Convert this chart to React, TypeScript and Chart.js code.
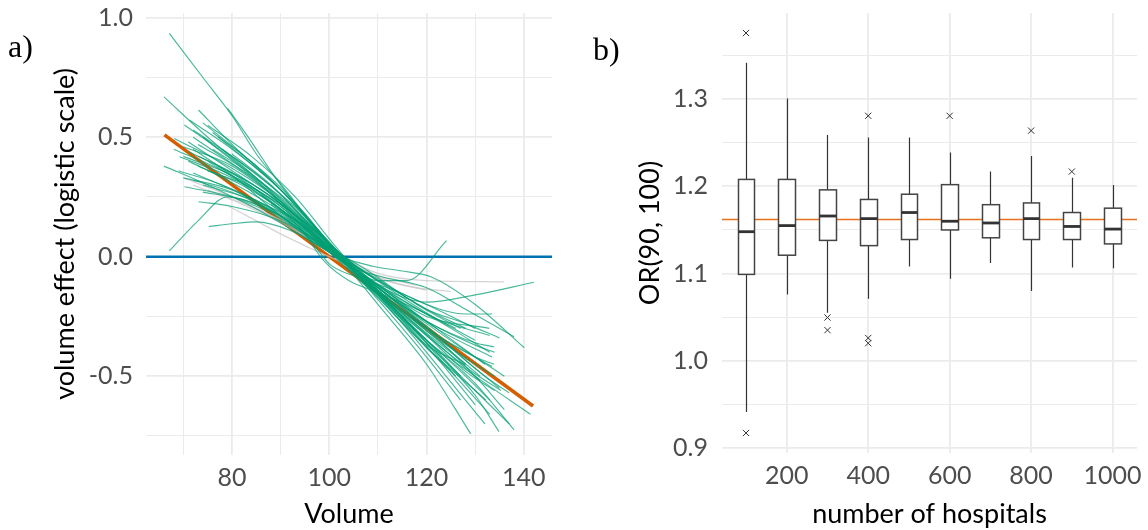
import React, { useEffect, useRef } from 'react';
import { Chart, registerables } from 'chart.js';
Chart.register(...registerables);

// ---------- Panel a) data ----------
const VOLUME_RANGE = [62.3, 145.8];
const EFFECT_RANGE = [-0.83, 1.02];
const VOLUME_TICKS = [70, 80, 90, 100, 110, 120, 130, 140];
const VOLUME_LABELED = [80, 100, 120, 140];
const EFFECT_TICKS = [-0.75, -0.5, -0.25, 0, 0.25, 0.5, 0.75, 1.0];
const EFFECT_LABELED = [-0.5, 0, 0.5, 1.0];
const TRUE_EFFECT = [[66.1, 0.51], [100, 0.0], [141.9, -0.625]];
const NULL_EFFECT = 0;

const GREEN_CURVES: number[][][] = [
  [[67.1, 0.935], [74, 0.75], [80, 0.59], [85, 0.43], [91, 0.28], [100, 0.05], [110, -0.15], [120, -0.35], [127, -0.5]],
  [[66, 0.669], [75, 0.5], [85, 0.33], [95, 0.13], [103, -0.01], [115, -0.25], [125, -0.48], [133, -0.66]],
  [[66, 0.379], [75, 0.3], [85, 0.2], [95, 0.08], [103, -0.02], [115, -0.18], [125, -0.3], [133, -0.4]],
  [[67.1, 0.024], [73, 0.15], [79, 0.25], [85, 0.22], [95, 0.1], [103, -0.02], [110, -0.1], [116, -0.1], [124.1, 0.067]],
  [[79.1, 0.621], [83, 0.51], [90, 0.3], [100, 0.05], [110, -0.2], [120, -0.45], [129.1, -0.742]],
  [[73.1, 0.614], [80, 0.47], [90, 0.28], [100, 0.06], [110, -0.15], [120, -0.36], [130, -0.58], [134.9, -0.732]],
  [[71.2, 0.572], [80, 0.45], [90, 0.28], [100, 0.05], [110, -0.14], [120, -0.3], [130, -0.42], [133.9, -0.45]],
  [[70.2, 0.551], [80, 0.41], [90, 0.24], [100, 0.04], [110, -0.15], [120, -0.35], [130, -0.53], [138, -0.725]],
  [[68.1, 0.495], [80, 0.37], [90, 0.23], [100, 0.03], [110, -0.15], [120, -0.32], [128, -0.45]],
  [[69.2, 0.418], [80, 0.33], [90, 0.2], [100, 0.03], [110, -0.13], [120, -0.27], [130, -0.36], [133.9, -0.377]],
  [[70.2, 0.293], [80, 0.25], [90, 0.16], [100, 0.02], [110, -0.12], [120, -0.25], [132.9, -0.3]],
  [[73.1, 0.23], [80, 0.21], [90, 0.15], [100, 0.03], [110, -0.1], [120, -0.22], [128, -0.3]],
  [[75.2, 0.126], [80, 0.138], [85, 0.146], [92, 0.11], [100, 0.02], [110, -0.12], [122, -0.26], [133, -0.33]],
  [[77.1, 0.502], [85, 0.37], [95, 0.18], [102, 0.0], [110, -0.15], [120, -0.33], [128, -0.48], [134, -0.56]],
  [[72, 0.45], [80, 0.34], [90, 0.17], [100, 0.02], [109, -0.04], [115, -0.06], [121, -0.085], [130, -0.2], [140.1, -0.381]],
  [[74, 0.5], [85, 0.32], [95, 0.12], [103, -0.03], [110, -0.08], [120, -0.13], [128, -0.22], [138, -0.335]],
  [[72, 0.35], [80, 0.28], [90, 0.17], [100, 0.03], [110, -0.12], [120, -0.19], [130, -0.16], [142.1, -0.107]],
  [[71, 0.48], [80, 0.36], [90, 0.22], [100, 0.03], [110, -0.16], [120, -0.33], [130, -0.49], [135.3, -0.56]],
  [[72, 0.53], [80, 0.42], [90, 0.26], [100, 0.05], [110, -0.17], [120, -0.38], [130, -0.56], [132.2, -0.6]],
  [[70, 0.42], [80, 0.34], [90, 0.21], [100, 0.02], [110, -0.17], [120, -0.37], [128, -0.453]],
  [[74, 0.56], [82, 0.43], [90, 0.29], [100, 0.06], [110, -0.16], [120, -0.36], [130, -0.56], [137, -0.7]],
  [[75, 0.4], [85, 0.27], [95, 0.12], [103, -0.01], [112, -0.15], [122, -0.3], [133.5, -0.42]],
  [[72, 0.32], [80, 0.27], [90, 0.17], [100, 0.02], [110, -0.13], [120, -0.27], [130, -0.37], [134, -0.4]],
  [[76, 0.45], [85, 0.33], [95, 0.15], [103, -0.01], [112, -0.18], [122, -0.36], [131, -0.52]],
  [[73, 0.38], [82, 0.3], [92, 0.17], [100, 0.04], [110, -0.13], [120, -0.3], [130, -0.5], [136, -0.64]],
  [[70, 0.46], [80, 0.38], [90, 0.23], [100, 0.04], [110, -0.16], [120, -0.35], [130, -0.5], [141.4, -0.66]],
  [[74, 0.27], [82, 0.24], [92, 0.15], [100, 0.04], [108, -0.06], [118, -0.2], [127, -0.3]],
  [[76, 0.52], [85, 0.38], [95, 0.17], [103, -0.02], [112, -0.2], [120, -0.38], [126, -0.5]],
  [[71, 0.4], [80, 0.31], [90, 0.19], [100, 0.03], [110, -0.14], [120, -0.31], [130, -0.45], [134, -0.5]],
  [[73, 0.47], [82, 0.36], [92, 0.2], [100, 0.05], [108, -0.11], [118, -0.31], [127, -0.48], [133, -0.6]],
  [[78, 0.45], [86, 0.33], [95, 0.17], [103, 0.0], [112, -0.12], [120, -0.22], [128, -0.28], [135, -0.34]],
  [[69, 0.36], [78, 0.3], [88, 0.2], [100, 0.02], [110, -0.13], [120, -0.28], [130, -0.42], [136, -0.5]],
  [[74, 0.3], [84, 0.24], [94, 0.14], [102, 0.0], [112, -0.15], [122, -0.3], [132, -0.45]],
  [[75, 0.55], [84, 0.42], [93, 0.25], [101, 0.05], [110, -0.16], [120, -0.4], [128, -0.6], [132, -0.7]],
  [[72, 0.5], [80, 0.39], [90, 0.25], [100, 0.05], [110, -0.18], [120, -0.42], [127, -0.6]],
  [[71, 0.44], [80, 0.35], [90, 0.2], [100, 0.03], [110, -0.14], [120, -0.3], [130, -0.42], [133.5, -0.46]],
  [[77, 0.38], [86, 0.28], [95, 0.14], [103, 0.0], [112, -0.13], [122, -0.26], [130, -0.35]],
  [[70, 0.33], [80, 0.28], [90, 0.18], [100, 0.03], [110, -0.1], [120, -0.2], [128, -0.24], [133.5, -0.24]],
  [[73, 0.42], [82, 0.33], [92, 0.19], [101, 0.02], [110, -0.13], [120, -0.29], [129, -0.45], [135, -0.55]],
  [[75, 0.36], [84, 0.29], [94, 0.16], [103, 0.0], [112, -0.16], [122, -0.33], [132, -0.5], [137, -0.57]],
  [[68, 0.45], [78, 0.36], [88, 0.24], [100, 0.04], [110, -0.14], [120, -0.31], [131, -0.5]],
  [[80, 0.43], [88, 0.3], [96, 0.13], [103, -0.02], [112, -0.2], [122, -0.42], [130, -0.62]],
  [[88, 0.22], [95, 0.1], [100, -0.03], [105, -0.08], [112, -0.13], [120, -0.2], [130, -0.3]],
  [[86, 0.26], [94, 0.12], [99, -0.02], [104, -0.1], [110, -0.15], [118, -0.22], [126, -0.3]],
];

const GREY_CURVES: number[][][] = [
  [[70, 0.33], [80, 0.25], [90, 0.15], [100, 0.03], [110, -0.07], [120, -0.1], [135.9, -0.105]],
  [[72, 0.3], [82, 0.22], [92, 0.12], [100, 0.02], [110, -0.09], [118, -0.13], [125, -0.146]],
  [[75, 0.28], [85, 0.2], [95, 0.1], [103, -0.01], [112, -0.1], [120, -0.14]],
  [[79.4, 0.21], [85, 0.15], [91.1, 0.084], [100, 0.0], [110, -0.08], [118, -0.12]],
];

// ---------- Panel b) data ----------
const HOSPITALS = [100, 200, 300, 400, 500, 600, 700, 800, 900, 1000];
const WHISKER_LOW = [0.941, 1.076, 1.055, 1.071, 1.108, 1.094, 1.112, 1.080, 1.107, 1.106];
const Q1 = [1.099, 1.121, 1.138, 1.132, 1.139, 1.150, 1.141, 1.139, 1.139, 1.134];
const MEDIAN = [1.148, 1.155, 1.166, 1.163, 1.170, 1.160, 1.158, 1.163, 1.154, 1.151];
const Q3 = [1.208, 1.208, 1.196, 1.185, 1.191, 1.202, 1.179, 1.181, 1.170, 1.175];
const WHISKER_HIGH = [1.342, 1.301, 1.259, 1.256, 1.256, 1.239, 1.217, 1.235, 1.210, 1.2015];
const OUTLIERS = [
  [100, 1.376], [100, 0.917], [300, 1.0495], [300, 1.035], [400, 1.281],
  [400, 1.026], [400, 1.020], [600, 1.281], [800, 1.264], [900, 1.217],
];
const TRUE_OR = 1.162;
const HOSP_RANGE = [41, 1060];
const OR_RANGE = [0.894, 1.399];
const HOSP_TICKS = [200, 400, 600, 800, 1000];
const OR_TICKS = [0.9, 0.95, 1.0, 1.05, 1.1, 1.15, 1.2, 1.25, 1.3, 1.35];
const OR_LABELED = [0.9, 1.0, 1.1, 1.2, 1.3];
const BOX_WIDTH = 41;

const has = (arr: number[], v: number) => arr.some((a) => Math.abs(a - v) < 1e-6);

const GREEN = 'rgba(0,158,115,0.72)';
const GREY = 'rgba(195,195,195,0.7)';
const ORANGE = '#D55E00';
const BLUE = '#0072B2';
const GRID = '#ebebeb';
const TICK_COLOR = '#4d4d4d';
const FONT_SIZE = 25;
const TITLE_SIZE = 27;

const noPadV = (s: any) => {
  s.paddingTop = 0;
  s.paddingBottom = 0;
};
const noPadH = (s: any) => {
  s.paddingLeft = 0;
  s.paddingRight = 0;
};

const boxPlugin = {
  id: 'boxplots',
  beforeDatasetsDraw(chart: any) {
    const { ctx, chartArea, scales } = chart;
    const x = scales.x;
    const y = scales.y;
    ctx.save();
    ctx.beginPath();
    ctx.rect(chartArea.left, chartArea.top, chartArea.right - chartArea.left, chartArea.bottom - chartArea.top);
    ctx.clip();
    const yr = y.getPixelForValue(TRUE_OR);
    ctx.strokeStyle = '#E8711F';
    ctx.lineWidth = 1.3;
    ctx.beginPath();
    ctx.moveTo(chartArea.left, yr);
    ctx.lineTo(chartArea.right, yr);
    ctx.stroke();
    HOSPITALS.forEach((h, i) => {
      const xc = Math.round(x.getPixelForValue(h)) + 0.5;
      const xl = Math.round(x.getPixelForValue(h - BOX_WIDTH / 2)) + 0.5;
      const xr = Math.round(x.getPixelForValue(h + BOX_WIDTH / 2)) + 0.5;
      const yWl = y.getPixelForValue(WHISKER_LOW[i]);
      const yWh = y.getPixelForValue(WHISKER_HIGH[i]);
      const yQ1 = y.getPixelForValue(Q1[i]);
      const yQ3 = y.getPixelForValue(Q3[i]);
      const yMd = y.getPixelForValue(MEDIAN[i]);
      ctx.strokeStyle = '#333333';
      ctx.lineWidth = 1.2;
      ctx.beginPath();
      ctx.moveTo(xc, yWh);
      ctx.lineTo(xc, yQ3);
      ctx.moveTo(xc, yQ1);
      ctx.lineTo(xc, yWl);
      ctx.stroke();
      ctx.fillStyle = '#ffffff';
      ctx.fillRect(xl, yQ3, xr - xl, yQ1 - yQ3);
      ctx.strokeStyle = '#444444';
      ctx.lineWidth = 1.5;
      ctx.strokeRect(xl, yQ3, xr - xl, yQ1 - yQ3);
      ctx.strokeStyle = '#333333';
      ctx.lineWidth = 2.8;
      ctx.beginPath();
      ctx.moveTo(xl, yMd);
      ctx.lineTo(xr, yMd);
      ctx.stroke();
    });
    ctx.restore();
  },
};

export default function App() {
  const leftRef = useRef<HTMLCanvasElement>(null);
  const rightRef = useRef<HTMLCanvasElement>(null);

  useEffect(() => {
    Chart.defaults.font.family = 'Lato';
    const lineDs = (pts: number[][], color: string, width: number) => ({
      data: pts.map(([x, y]) => ({ x, y })),
      borderColor: color,
      borderWidth: width,
      pointRadius: 0,
      fill: false,
      cubicInterpolationMode: 'monotone' as const,
    });
    const datasets: any[] = [
      ...GREEN_CURVES.map((c) => lineDs(c, GREEN, 1.15)),
      ...GREY_CURVES.map((c) => lineDs(c, GREY, 1.3)),
      { ...lineDs(TRUE_EFFECT, ORANGE, 3.5), cubicInterpolationMode: 'default', tension: 0 },
      {
        ...lineDs([[VOLUME_RANGE[0], NULL_EFFECT], [VOLUME_RANGE[1], NULL_EFFECT]], BLUE, 2.6),
        cubicInterpolationMode: 'default',
        tension: 0,
      },
    ];

    const left = new Chart(leftRef.current as HTMLCanvasElement, {
      type: 'line',
      data: { datasets },
      options: {
        animation: false,
        responsive: false,
        layout: { padding: { top: 13, right: 23, left: 0, bottom: 0 } },
        plugins: { legend: { display: false }, tooltip: { enabled: false } },
        scales: {
          x: {
            type: 'linear',
            min: VOLUME_RANGE[0],
            max: VOLUME_RANGE[1],
            afterBuildTicks: (s: any) => {
              s.ticks = VOLUME_TICKS.map((v) => ({ value: v }));
            },
            afterFit: (s: any) => {
              s.height = 75;
              noPadH(s);
            },
            ticks: {
              autoSkip: false,
              maxRotation: 0,
              padding: 8,
              color: TICK_COLOR,
              font: { size: FONT_SIZE },
              callback: (v: any) => (has(VOLUME_LABELED, Number(v)) ? String(v) : ''),
            },
            grid: {
              color: GRID,
              drawTicks: false,
              lineWidth: (c: any) => (has(VOLUME_LABELED, c.tick.value) ? 1.8 : 1),
            },
            border: { display: false },
            title: {
              display: true,
              text: 'Volume',
              color: '#000',
              font: { size: TITLE_SIZE },
              padding: { top: 0, bottom: 0 },
            },
          },
          y: {
            type: 'linear',
            min: EFFECT_RANGE[0],
            max: EFFECT_RANGE[1],
            afterBuildTicks: (s: any) => {
              s.ticks = EFFECT_TICKS.map((v) => ({ value: v }));
            },
            afterFit: (s: any) => {
              s.width = 146;
              noPadV(s);
            },
            ticks: {
              autoSkip: false,
              padding: 13,
              color: TICK_COLOR,
              font: { size: FONT_SIZE },
              callback: (v: any) => (has(EFFECT_LABELED, Number(v)) ? Number(v).toFixed(1) : ''),
            },
            grid: {
              color: GRID,
              drawTicks: false,
              lineWidth: (c: any) => (has(EFFECT_LABELED, c.tick.value) ? 1.8 : 1),
            },
            border: { display: false },
            title: {
              display: true,
              text: 'volume effect (logistic scale)',
              color: '#000',
              font: { size: TITLE_SIZE },
              padding: { top: 49, bottom: 0 },
            },
          },
        },
      },
    } as any);

    const right = new Chart(rightRef.current as HTMLCanvasElement, {
      type: 'scatter',
      data: {
        datasets: [
          {
            data: OUTLIERS.map(([x, y]) => ({ x, y })),
            pointStyle: 'crossRot',
            pointRadius: 4.4,
            borderColor: '#333333',
            borderWidth: 1,
            backgroundColor: 'transparent',
          },
        ],
      },
      plugins: [boxPlugin],
      options: {
        animation: false,
        responsive: false,
        layout: { padding: { top: 13, right: 11, left: 0, bottom: 0 } },
        plugins: { legend: { display: false }, tooltip: { enabled: false } },
        scales: {
          x: {
            type: 'linear',
            min: HOSP_RANGE[0],
            max: HOSP_RANGE[1],
            afterBuildTicks: (s: any) => {
              s.ticks = HOSP_TICKS.map((v) => ({ value: v }));
            },
            afterFit: (s: any) => {
              s.height = 77;
              noPadH(s);
            },
            ticks: {
              autoSkip: false,
              maxRotation: 0,
              padding: 8,
              color: TICK_COLOR,
              font: { size: FONT_SIZE },
              callback: (v: any) => String(v),
            },
            grid: { color: GRID, drawTicks: false, lineWidth: 1.8 },
            border: { display: false },
            title: {
              display: true,
              text: 'number of hospitals',
              color: '#000',
              font: { size: TITLE_SIZE },
              padding: { top: 0, bottom: 0 },
            },
          },
          y: {
            type: 'linear',
            min: OR_RANGE[0],
            max: OR_RANGE[1],
            afterBuildTicks: (s: any) => {
              s.ticks = OR_TICKS.map((v) => ({ value: v }));
            },
            afterFit: (s: any) => {
              s.width = 147;
              noPadV(s);
            },
            ticks: {
              autoSkip: false,
              padding: 14,
              color: TICK_COLOR,
              font: { size: FONT_SIZE },
              callback: (v: any) => (has(OR_LABELED, Number(v)) ? Number(v).toFixed(1) : ''),
            },
            grid: {
              color: GRID,
              drawTicks: false,
              lineWidth: (c: any) => (has(OR_LABELED, c.tick.value) ? 1.8 : 1),
            },
            border: { display: false },
            title: {
              display: true,
              text: 'OR(90, 100)',
              color: '#000',
              font: { size: TITLE_SIZE },
              padding: { top: 59, bottom: 0 },
            },
          },
        },
      },
    } as any);

    return () => {
      left.destroy();
      right.destroy();
    };
  }, []);

  const labelStyle: React.CSSProperties = {
    position: 'absolute',
    font: '32px "Liberation Serif", serif',
    lineHeight: '32px',
    color: '#000',
  };

  return (
    <div style={{ position: 'fixed', left: 0, top: 0, width: 1148, height: 530, background: '#fff' }}>
      <canvas
        ref={leftRef}
        width={575}
        height={530}
        style={{ position: 'absolute', left: 0, top: 0, width: 575, height: 530 }}
      />
      <canvas
        ref={rightRef}
        width={573}
        height={530}
        style={{ position: 'absolute', left: 575, top: 0, width: 573, height: 530 }}
      />
      <div style={{ ...labelStyle, left: 8, top: 30 }}>a)</div>
      <div style={{ ...labelStyle, left: 593, top: 33 }}>b)</div>
    </div>
  );
}
